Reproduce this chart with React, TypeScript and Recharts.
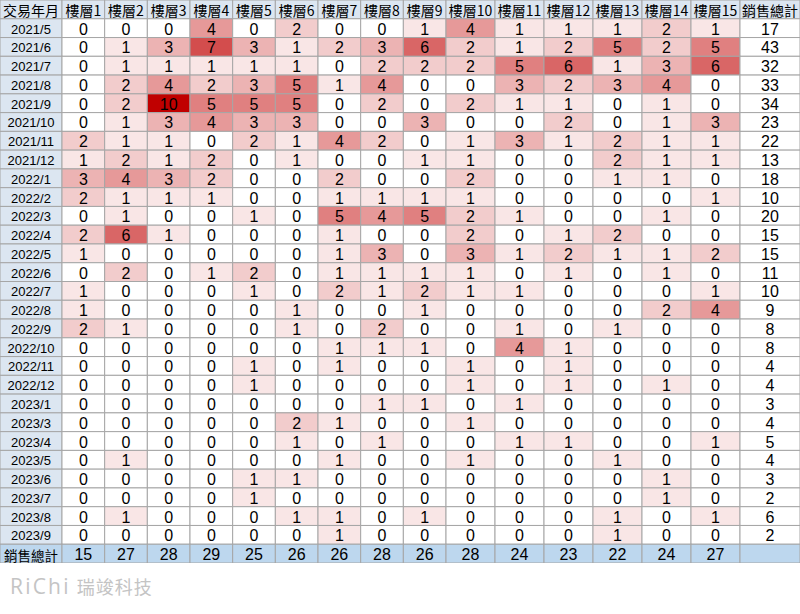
import { Scatter, ScatterChart, XAxis, YAxis } from 'recharts';

const MONTHS = [
  '2021/5', '2021/6', '2021/7', '2021/8', '2021/9', '2021/10', '2021/11', '2021/12',
  '2022/1', '2022/2', '2022/3', '2022/4', '2022/5', '2022/6', '2022/7', '2022/8',
  '2022/9', '2022/10', '2022/11', '2022/12', '2023/1', '2023/3', '2023/4', '2023/5',
  '2023/6', '2023/7', '2023/8', '2023/9',
];

const FLOORS = Array.from({ length: 15 }, (_, i) => `樓層${i + 1}`);

// rows = months, columns = floors 1..15
const SALES = [
  [0, 0, 0, 4, 0, 2, 0, 0, 1, 4, 1, 1, 1, 2, 1],
  [0, 1, 3, 7, 3, 1, 2, 3, 6, 2, 1, 2, 5, 2, 5],
  [0, 1, 1, 1, 1, 1, 0, 2, 2, 2, 5, 6, 1, 3, 6],
  [0, 2, 4, 2, 3, 5, 1, 4, 0, 0, 3, 2, 3, 4, 0],
  [0, 2, 10, 5, 5, 5, 0, 2, 0, 2, 1, 1, 0, 1, 0],
  [0, 1, 3, 4, 3, 3, 0, 0, 3, 0, 0, 2, 0, 1, 3],
  [2, 1, 1, 0, 2, 1, 4, 2, 0, 1, 3, 1, 2, 1, 1],
  [1, 2, 1, 2, 0, 1, 0, 0, 1, 1, 0, 0, 2, 1, 1],
  [3, 4, 3, 2, 0, 0, 2, 0, 0, 2, 0, 0, 1, 1, 0],
  [2, 1, 1, 1, 0, 0, 1, 1, 1, 1, 0, 0, 0, 0, 1],
  [0, 1, 0, 0, 1, 0, 5, 4, 5, 2, 1, 0, 0, 1, 0],
  [2, 6, 1, 0, 0, 0, 1, 0, 0, 2, 0, 1, 2, 0, 0],
  [1, 0, 0, 0, 0, 0, 1, 3, 0, 3, 1, 2, 1, 1, 2],
  [0, 2, 0, 1, 2, 0, 1, 1, 1, 1, 0, 1, 0, 1, 0],
  [1, 0, 0, 0, 1, 0, 2, 1, 2, 1, 1, 0, 0, 0, 1],
  [1, 0, 0, 0, 0, 1, 0, 0, 1, 0, 0, 0, 0, 2, 4],
  [2, 1, 0, 0, 0, 1, 0, 2, 0, 0, 1, 0, 1, 0, 0],
  [0, 0, 0, 0, 0, 0, 1, 1, 1, 0, 4, 1, 0, 0, 0],
  [0, 0, 0, 0, 1, 0, 1, 0, 0, 1, 0, 1, 0, 0, 0],
  [0, 0, 0, 0, 1, 0, 0, 0, 0, 1, 0, 1, 0, 1, 0],
  [0, 0, 0, 0, 0, 0, 0, 1, 1, 0, 1, 0, 0, 0, 0],
  [0, 0, 0, 0, 0, 2, 1, 0, 0, 1, 0, 0, 0, 0, 0],
  [0, 0, 0, 0, 0, 1, 0, 1, 0, 0, 1, 1, 0, 0, 1],
  [0, 1, 0, 0, 0, 0, 1, 0, 0, 1, 0, 0, 1, 0, 0],
  [0, 0, 0, 0, 1, 1, 0, 0, 0, 0, 0, 0, 0, 1, 0],
  [0, 0, 0, 0, 1, 0, 0, 0, 0, 0, 0, 0, 0, 1, 0],
  [0, 1, 0, 0, 0, 1, 1, 0, 1, 0, 0, 0, 1, 0, 1],
  [0, 0, 0, 0, 0, 0, 1, 0, 0, 0, 0, 0, 1, 0, 0],
];

const MONTH_TOTALS = [17, 43, 32, 33, 34, 23, 22, 13, 18, 10, 20, 15, 15, 11, 10, 9, 8, 8, 4, 4, 3, 4, 5, 4, 3, 2, 6, 2];
const FLOOR_TOTALS = [15, 27, 28, 29, 25, 26, 26, 28, 26, 28, 24, 23, 22, 24, 27];

const W = 800;
const H = 563;
const COL_W = [62, ...Array(9).fill(42.67), ...Array(6).fill(49), 60];
const TOTAL_W = COL_W.reduce((a, b) => a + b, 0);
const ROWS = MONTHS.length + 2;
const MAX_V = 10;

const HEAD_BG = '#dce6f1';
const TOTAL_BG = '#bdd7ee';
const GRID = '#a6a6a6';
const CJK = '"Noto Sans CJK TC", "Noto Sans", sans-serif';
const LATIN = '"Liberation Sans", Arial, sans-serif';

function heat(v: number) {
  const t = Math.min(v / MAX_V, 1);
  const r = Math.round(255 - t * (255 - 192));
  const g = Math.round(255 - t * 255);
  return `rgb(${r},${g},${g})`;
}

const colLeft = (c: number) => COL_W.slice(0, c).reduce((a, b) => a + b, 0);

type CellData = { x: number; y: number; w: number; text: string; fill: string; font: string; size: number };

const cells: CellData[] = [];
const push = (r: number, c: number, text: string, fill: string, font = LATIN, size = 16) =>
  cells.push({ x: colLeft(c) + COL_W[c] / 2, y: r + 0.5, w: COL_W[c], text, fill, font, size });

push(0, 0, '交易年月', HEAD_BG, CJK, 14);
FLOORS.forEach((f, i) => push(0, i + 1, f, HEAD_BG, CJK, 14));
push(0, 16, '銷售總計', HEAD_BG, CJK, 14);
MONTHS.forEach((m, r) => {
  push(r + 1, 0, m, HEAD_BG, LATIN, 13);
  SALES[r].forEach((v, c) => push(r + 1, c + 1, String(v), heat(v)));
  push(r + 1, 16, String(MONTH_TOTALS[r]), '#ffffff');
});
push(ROWS - 1, 0, '銷售總計', TOTAL_BG, CJK, 13.5);
FLOOR_TOTALS.forEach((v, i) => push(ROWS - 1, i + 1, String(v), TOTAL_BG));
push(ROWS - 1, 16, '', TOTAL_BG);

function TableCell(props: any) {
  const { cx, cy, payload } = props;
  const w = payload.w * (W / TOTAL_W);
  const h = H / ROWS;
  return (
    <g>
      <rect x={cx - w / 2} y={cy - h / 2} width={w} height={h} fill={payload.fill} stroke={GRID} strokeWidth={1} />
      <text
        x={cx}
        y={cy + 1}
        textAnchor="middle"
        dominantBaseline="central"
        fontFamily={payload.font}
        fontSize={payload.size}
        fill="#000"
      >
        {payload.text}
      </text>
    </g>
  );
}

export default function App() {
  return (
    <div style={{ position: 'absolute', left: 0, top: 0, width: 800, height: 614, background: '#fff' }}>
      <ScatterChart width={W} height={H} margin={{ top: 0, right: 0, bottom: 0, left: 0 }}>
        <XAxis type="number" dataKey="x" domain={[0, TOTAL_W]} hide />
        <YAxis type="number" dataKey="y" domain={[0, ROWS]} reversed hide />
        <Scatter data={cells} shape={TableCell} isAnimationActive={false} />
      </ScatterChart>
      <div
        style={{
          position: 'absolute',
          left: 10,
          top: 572,
          color: '#c4c4c4',
          fontFamily: CJK,
          whiteSpace: 'nowrap',
        }}
      >
        <span style={{ fontFamily: '"Open Sans", sans-serif', fontSize: 21, letterSpacing: 2.2 }}>RiChi</span>
        <span style={{ fontSize: 18, marginLeft: 6, letterSpacing: 1 }}>瑞竣科技</span>
      </div>
    </div>
  );
}
